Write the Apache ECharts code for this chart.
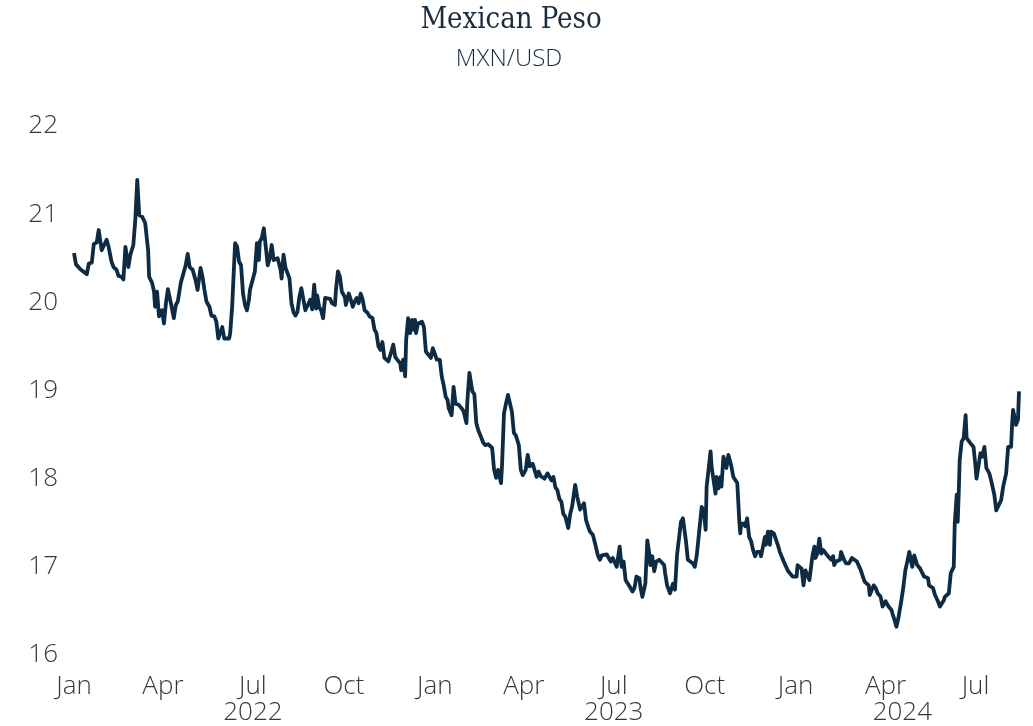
<!DOCTYPE html>
<html>
<head>
<meta charset="utf-8">
<script src="https://cdn.jsdelivr.net/npm/echarts@6/dist/echarts.min.js"></script>
<style>
html,body{margin:0;padding:0;background:#fff;}
#chart{width:1033px;height:726px;}
</style>
</head>
<body>
<div id="chart"></div>
<script>
const titleText = 'Mexican Peso';
const subtitleText = 'MXN/USD';

const dates = [
'2022-01-01','2022-01-03','2022-01-05','2022-01-08','2022-01-10','2022-01-14','2022-01-16','2022-01-19','2022-01-21','2022-01-24',
'2022-01-26','2022-01-29','2022-01-31','2022-02-03','2022-02-05','2022-02-08','2022-02-10','2022-02-13','2022-02-15','2022-02-18',
'2022-02-20','2022-02-22','2022-02-25','2022-02-27','2022-03-02','2022-03-04','2022-03-06','2022-03-08','2022-03-11','2022-03-14',
'2022-03-17','2022-03-18','2022-03-21','2022-03-23','2022-03-24','2022-03-26','2022-03-28','2022-03-31','2022-04-02','2022-04-04',
'2022-04-06','2022-04-09','2022-04-12','2022-04-14','2022-04-16','2022-04-19','2022-04-21','2022-04-24','2022-04-26','2022-04-28',
'2022-05-01','2022-05-04','2022-05-06','2022-05-09','2022-05-11','2022-05-13','2022-05-15','2022-05-18','2022-05-20','2022-05-23',
'2022-05-25','2022-05-27','2022-05-29','2022-05-31','2022-06-02','2022-06-04','2022-06-07','2022-06-08','2022-06-10','2022-06-12',
'2022-06-13','2022-06-15','2022-06-17','2022-06-19','2022-06-21','2022-06-23','2022-06-25','2022-06-27','2022-06-28','2022-06-30',
'2022-07-02','2022-07-03','2022-07-05','2022-07-07','2022-07-08','2022-07-10','2022-07-12','2022-07-14','2022-07-16','2022-07-18',
'2022-07-20','2022-07-22','2022-07-24','2022-07-26','2022-07-29','2022-07-30','2022-08-01','2022-08-03','2022-08-05','2022-08-07',
'2022-08-09','2022-08-11','2022-08-13','2022-08-15','2022-08-17','2022-08-19','2022-08-21','2022-08-23','2022-08-25','2022-08-28',
'2022-08-30','2022-09-01','2022-09-03','2022-09-04','2022-09-06','2022-09-08','2022-09-10','2022-09-12','2022-09-14','2022-09-17',
'2022-09-19','2022-09-22','2022-09-23','2022-09-25','2022-09-27','2022-09-29','2022-10-02','2022-10-03','2022-10-06','2022-10-08',
'2022-10-10','2022-10-12','2022-10-14','2022-10-16','2022-10-18','2022-10-20','2022-10-22','2022-10-25','2022-10-27','2022-10-30',
'2022-11-01','2022-11-03','2022-11-05','2022-11-07','2022-11-09','2022-11-11','2022-11-13','2022-11-15','2022-11-18','2022-11-20',
'2022-11-22','2022-11-24','2022-11-27','2022-11-28','2022-11-30','2022-12-02','2022-12-03','2022-12-05','2022-12-07','2022-12-09',
'2022-12-10','2022-12-12','2022-12-13','2022-12-15','2022-12-17','2022-12-19','2022-12-21','2022-12-23','2022-12-26','2022-12-28',
'2022-12-30','2023-01-01','2023-01-03','2023-01-06','2023-01-08','2023-01-10','2023-01-12','2023-01-14','2023-01-15','2023-01-18',
'2023-01-20','2023-01-22','2023-01-25','2023-01-28','2023-01-30','2023-02-02','2023-02-03','2023-02-05','2023-02-08','2023-02-10',
'2023-02-12','2023-02-14','2023-02-16','2023-02-19','2023-02-21','2023-02-24','2023-02-26','2023-02-28','2023-03-02','2023-03-04',
'2023-03-06','2023-03-09','2023-03-10','2023-03-12','2023-03-14','2023-03-16','2023-03-18','2023-03-20','2023-03-22','2023-03-24',
'2023-03-27','2023-03-29','2023-03-31','2023-04-03','2023-04-05','2023-04-07','2023-04-10','2023-04-12','2023-04-14','2023-04-16',
'2023-04-18','2023-04-20','2023-04-22','2023-04-25','2023-04-27','2023-04-29','2023-05-01','2023-05-03','2023-05-05','2023-05-07',
'2023-05-09','2023-05-11','2023-05-13','2023-05-16','2023-05-18','2023-05-20','2023-05-21','2023-05-23','2023-05-25','2023-05-28',
'2023-05-30','2023-06-01','2023-06-03','2023-06-05','2023-06-07','2023-06-10','2023-06-12','2023-06-15','2023-06-17','2023-06-19',
'2023-06-21','2023-06-24','2023-06-26','2023-06-28','2023-06-30','2023-07-02','2023-07-04','2023-07-07','2023-07-09','2023-07-11',
'2023-07-12','2023-07-13','2023-07-15','2023-07-18','2023-07-20','2023-07-22','2023-07-24','2023-07-27','2023-07-28','2023-07-30',
'2023-08-01','2023-08-02','2023-08-04','2023-08-06','2023-08-07','2023-08-09','2023-08-11','2023-08-13','2023-08-16','2023-08-18',
'2023-08-21','2023-08-22','2023-08-24','2023-08-26','2023-08-27','2023-08-30','2023-09-01','2023-09-03','2023-09-05','2023-09-07',
'2023-09-09','2023-09-11','2023-09-12','2023-09-14','2023-09-16','2023-09-19','2023-09-21','2023-09-23','2023-09-25','2023-09-26',
'2023-09-28','2023-09-30','2023-10-02','2023-10-03','2023-10-05','2023-10-07','2023-10-08','2023-10-10','2023-10-12','2023-10-13',
'2023-10-15','2023-10-17','2023-10-18','2023-10-20','2023-10-22','2023-10-23','2023-10-25','2023-10-27','2023-10-28','2023-10-30',
'2023-11-01','2023-11-03','2023-11-05','2023-11-06','2023-11-07','2023-11-10','2023-11-11','2023-11-13','2023-11-15','2023-11-17',
'2023-11-19','2023-11-21','2023-11-23','2023-11-26','2023-11-27','2023-11-29','2023-12-01','2023-12-02','2023-12-04','2023-12-06',
'2023-12-07','2023-12-10','2023-12-12','2023-12-14','2023-12-16','2023-12-17','2023-12-20','2023-12-22','2023-12-24','2023-12-26',
'2023-12-29','2023-12-31','2024-01-02','2024-01-03','2024-01-05','2024-01-07','2024-01-09','2024-01-11','2024-01-13','2024-01-15',
'2024-01-17','2024-01-18','2024-01-20','2024-01-21','2024-01-23','2024-01-25','2024-01-27','2024-01-29','2024-01-31','2024-02-02',
'2024-02-04','2024-02-06','2024-02-08','2024-02-09','2024-02-11','2024-02-13','2024-02-15','2024-02-16','2024-02-19','2024-02-21',
'2024-02-24','2024-02-25','2024-02-27','2024-02-29','2024-03-03','2024-03-05','2024-03-07','2024-03-09','2024-03-11','2024-03-13',
'2024-03-15','2024-03-16','2024-03-18','2024-03-20','2024-03-22','2024-03-24','2024-03-25','2024-03-27','2024-03-29','2024-03-31',
'2024-04-01','2024-04-03','2024-04-04','2024-04-07','2024-04-08','2024-04-10','2024-04-12','2024-04-14','2024-04-15','2024-04-17',
'2024-04-19','2024-04-21','2024-04-23','2024-04-25','2024-04-26','2024-04-28','2024-04-30','2024-05-01','2024-05-03','2024-05-05',
'2024-05-06','2024-05-08','2024-05-10','2024-05-12','2024-05-14','2024-05-15','2024-05-17','2024-05-19','2024-05-21','2024-05-22',
'2024-05-24','2024-05-26','2024-05-28','2024-05-30','2024-05-31','2024-06-02','2024-06-04','2024-06-06','2024-06-07','2024-06-09',
'2024-06-10','2024-06-12','2024-06-13','2024-06-14','2024-06-15','2024-06-17','2024-06-19','2024-06-21','2024-06-22','2024-06-24',
'2024-06-26','2024-06-28','2024-06-29','2024-07-01','2024-07-02','2024-07-04','2024-07-06','2024-07-08','2024-07-10','2024-07-12',
'2024-07-13','2024-07-15','2024-07-17','2024-07-19','2024-07-20','2024-07-22','2024-07-24','2024-07-27','2024-07-29','2024-07-31',
'2024-08-01','2024-08-03','2024-08-06','2024-08-07','2024-08-08','2024-08-10','2024-08-11','2024-08-13','2024-08-14'
];

const mxnPerUsd = [
20.56,20.43,20.44,20.37,20.36,20.32,20.44,20.45,20.66,20.68,
20.82,20.59,20.57,20.71,20.63,20.46,20.40,20.37,20.30,20.29,
20.26,20.63,20.40,20.54,20.65,20.93,21.39,20.99,20.97,20.90,
20.59,20.29,20.22,20.12,19.95,20.12,19.84,19.91,19.76,19.99,
20.15,19.99,19.82,19.97,20.01,20.22,20.30,20.42,20.55,20.40,
20.37,20.25,20.14,20.39,20.29,20.14,20.01,19.95,19.85,19.84,
19.78,19.59,19.57,19.72,19.59,19.60,19.59,19.65,19.95,20.44,
20.67,20.63,20.46,20.42,20.10,19.97,19.91,20.03,20.14,20.14,
20.31,20.35,20.67,20.48,20.69,20.73,20.84,20.63,20.42,20.50,
20.65,20.48,20.48,20.50,20.37,20.27,20.54,20.39,20.37,20.27,
19.99,19.89,19.85,19.89,20.06,20.16,20.14,19.91,19.91,20.03,
19.92,20.20,19.93,20.08,19.95,19.91,19.82,20.05,20.05,20.04,
19.99,19.97,20.14,20.35,20.29,20.12,20.06,19.97,20.10,20.03,
19.95,20.01,20.05,19.99,20.10,20.03,19.91,19.88,19.84,19.82,
19.69,19.65,19.50,19.46,19.55,19.37,19.35,19.33,19.44,19.52,
19.38,19.35,19.31,19.23,19.35,19.16,19.57,19.82,19.65,19.80,
19.69,19.80,19.65,19.76,19.78,19.78,19.72,19.44,19.40,19.37,
19.48,19.46,19.35,19.35,19.16,19.06,18.93,18.89,18.80,18.72,
19.04,18.85,18.84,18.80,18.77,18.63,18.89,19.20,18.99,18.96,
18.63,18.55,18.54,18.41,18.38,18.39,18.40,18.35,18.10,18.01,
18.10,17.95,18.15,18.74,18.85,18.95,18.95,18.76,18.52,18.49,
18.38,18.10,18.04,18.10,18.27,18.14,18.17,18.16,18.02,18.08,
18.03,18.04,18.00,18.06,18.08,17.98,18.02,17.90,17.87,17.77,
17.74,17.60,17.57,17.44,17.60,17.69,17.70,17.93,17.80,17.65,
17.64,17.72,17.53,17.46,17.40,17.36,17.27,17.13,17.08,17.13,
17.15,17.14,17.13,17.06,17.10,17.10,17.00,17.23,17.00,17.06,
17.04,16.85,16.83,16.76,16.72,16.76,16.89,16.87,16.77,16.66,
16.68,16.81,17.30,17.15,17.02,17.12,16.95,17.06,17.08,17.08,
17.02,16.93,16.79,16.79,16.70,16.81,16.74,17.13,17.15,17.51,
17.55,17.53,17.30,17.08,17.06,17.04,17.00,17.13,17.15,17.46,
17.68,17.64,17.42,17.91,17.93,18.31,18.14,18.12,17.83,18.02,
17.89,18.02,17.91,18.25,18.27,18.12,18.27,18.29,18.14,18.02,
18.02,17.95,17.53,17.38,17.49,17.49,17.46,17.55,17.34,17.29,
17.19,17.12,17.17,17.17,17.12,17.12,17.34,17.25,17.40,17.25,
17.40,17.38,17.38,17.25,17.17,17.15,17.06,17.04,16.96,16.93,
16.89,16.87,16.89,17.02,17.04,16.98,16.79,16.96,16.96,16.85,
16.83,17.12,17.23,17.10,17.15,17.32,17.15,17.19,17.21,17.13,
17.13,17.08,17.12,17.02,17.06,17.04,17.08,17.17,17.08,17.04,
17.04,17.06,17.10,17.08,17.06,17.04,16.96,16.89,16.83,16.81,
16.79,16.68,16.66,16.79,16.76,16.70,16.70,16.66,16.55,16.53,
16.61,16.61,16.55,16.51,16.47,16.40,16.32,16.42,16.42,16.62,
16.77,16.96,17.06,17.17,17.15,17.00,17.13,17.15,17.02,17.04,
16.98,17.00,16.89,16.91,16.87,16.79,16.81,16.76,16.68,16.66,
16.61,16.55,16.57,16.62,16.66,16.67,16.70,16.93,16.95,17.00,
17.49,17.82,17.51,17.82,18.21,18.42,18.46,18.72,18.46,18.46,
18.40,18.38,18.36,18.14,18.00,18.14,18.29,18.25,18.36,18.12,
18.10,18.06,17.97,17.87,17.82,17.64,17.64,17.76,17.91,17.91,
18.06,18.36,18.36,18.61,18.78,18.78,18.61,18.67,18.99
];

const monthTickDates = ['2022-01-01','2022-04-01','2022-07-01','2022-10-01','2023-01-01','2023-04-01','2023-07-01','2023-10-01','2024-01-01','2024-04-01','2024-07-01'];
const monthTickLabels = ['Jan','Apr','Jul','Oct','Jan','Apr','Jul','Oct','Jan','Apr','Jul'];
const yearTickDates = ['2022-07-01','2023-07-01','2024-04-18'];
const yearTickLabels = ['2022','2023','2024'];
const yTicks = [16, 17, 18, 19, 20, 21, 22];

const xMin = '2022-01-01';
const xMax = '2024-08-14';

const ts = s => new Date(s + 'T00:00:00Z').getTime();
const monthTs = monthTickDates.map(ts);
const yearTs = yearTickDates.map(ts);
const seriesData = dates.map((d, i) => [ts(d), mxnPerUsd[i]]);

function lookup(arr, labels, v) {
  let best = -1, bd = Infinity;
  for (let i = 0; i < arr.length; i++) {
    const d = Math.abs(arr[i] - v);
    if (d < bd) { bd = d; best = i; }
  }
  return bd < 86400000 ? labels[best] : '';
}

const labelFont = '"Open Sans", Lato, sans-serif';
const labelColor = '#383838';
const navy = '#1a2c40';
const chart = echarts.init(document.getElementById('chart'), null, {renderer: 'canvas'});
const baseX = {
  type: 'value',
  min: ts(xMin),
  max: ts(xMax),
  scale: true,
  axisLine: {show: false},
  axisTick: {show: false},
  splitLine: {show: false}
};
chart.setOption({
  animation: false,
  backgroundColor: '#ffffff',
  title: [{
    text: titleText,
    left: 506,
    textAlign: 'center',
    top: 1,
    textStyle: {fontFamily: '"DejaVu Serif Condensed", "Liberation Serif", serif', fontSize: 29, fontWeight: 'normal', color: navy}
  }, {
    text: subtitleText,
    left: 504,
    textAlign: 'center',
    top: 42,
    textStyle: {fontFamily: labelFont, fontSize: 24, fontWeight: 300, color: navy}
  }],
  grid: {left: 74, right: 14, top: 126, bottom: 71, containLabel: false},
  xAxis: [Object.assign({}, baseX, {
    axisLabel: {
      customValues: monthTs,
      margin: 19,
      fontFamily: labelFont,
      fontSize: 26,
      fontWeight: 300,
      color: labelColor,
      formatter: v => lookup(monthTs, monthTickLabels, v)
    }
  }), Object.assign({}, baseX, {
    position: 'bottom',
    axisLabel: {
      customValues: yearTs,
      margin: 45,
      fontFamily: labelFont,
      fontSize: 26,
      fontWeight: 300,
      color: labelColor,
      formatter: v => lookup(yearTs, yearTickLabels, v)
    }
  })],
  yAxis: {
    type: 'value',
    min: yTicks[0],
    max: yTicks[yTicks.length - 1],
    interval: 1,
    axisLine: {show: false},
    axisTick: {show: false},
    splitLine: {show: false},
    axisLabel: {
      margin: 16,
      padding: [4, 0, 0, 0],
      fontFamily: labelFont,
      fontSize: 26,
      fontWeight: 300,
      color: labelColor
    }
  },
  series: [{
    type: 'line',
    xAxisIndex: 0,
    data: seriesData,
    showSymbol: false,
    symbol: 'none',
    lineStyle: {color: '#0e2b44', width: 3.8, join: 'round'},
    silent: true
  }]
});
</script>
</body>
</html>
